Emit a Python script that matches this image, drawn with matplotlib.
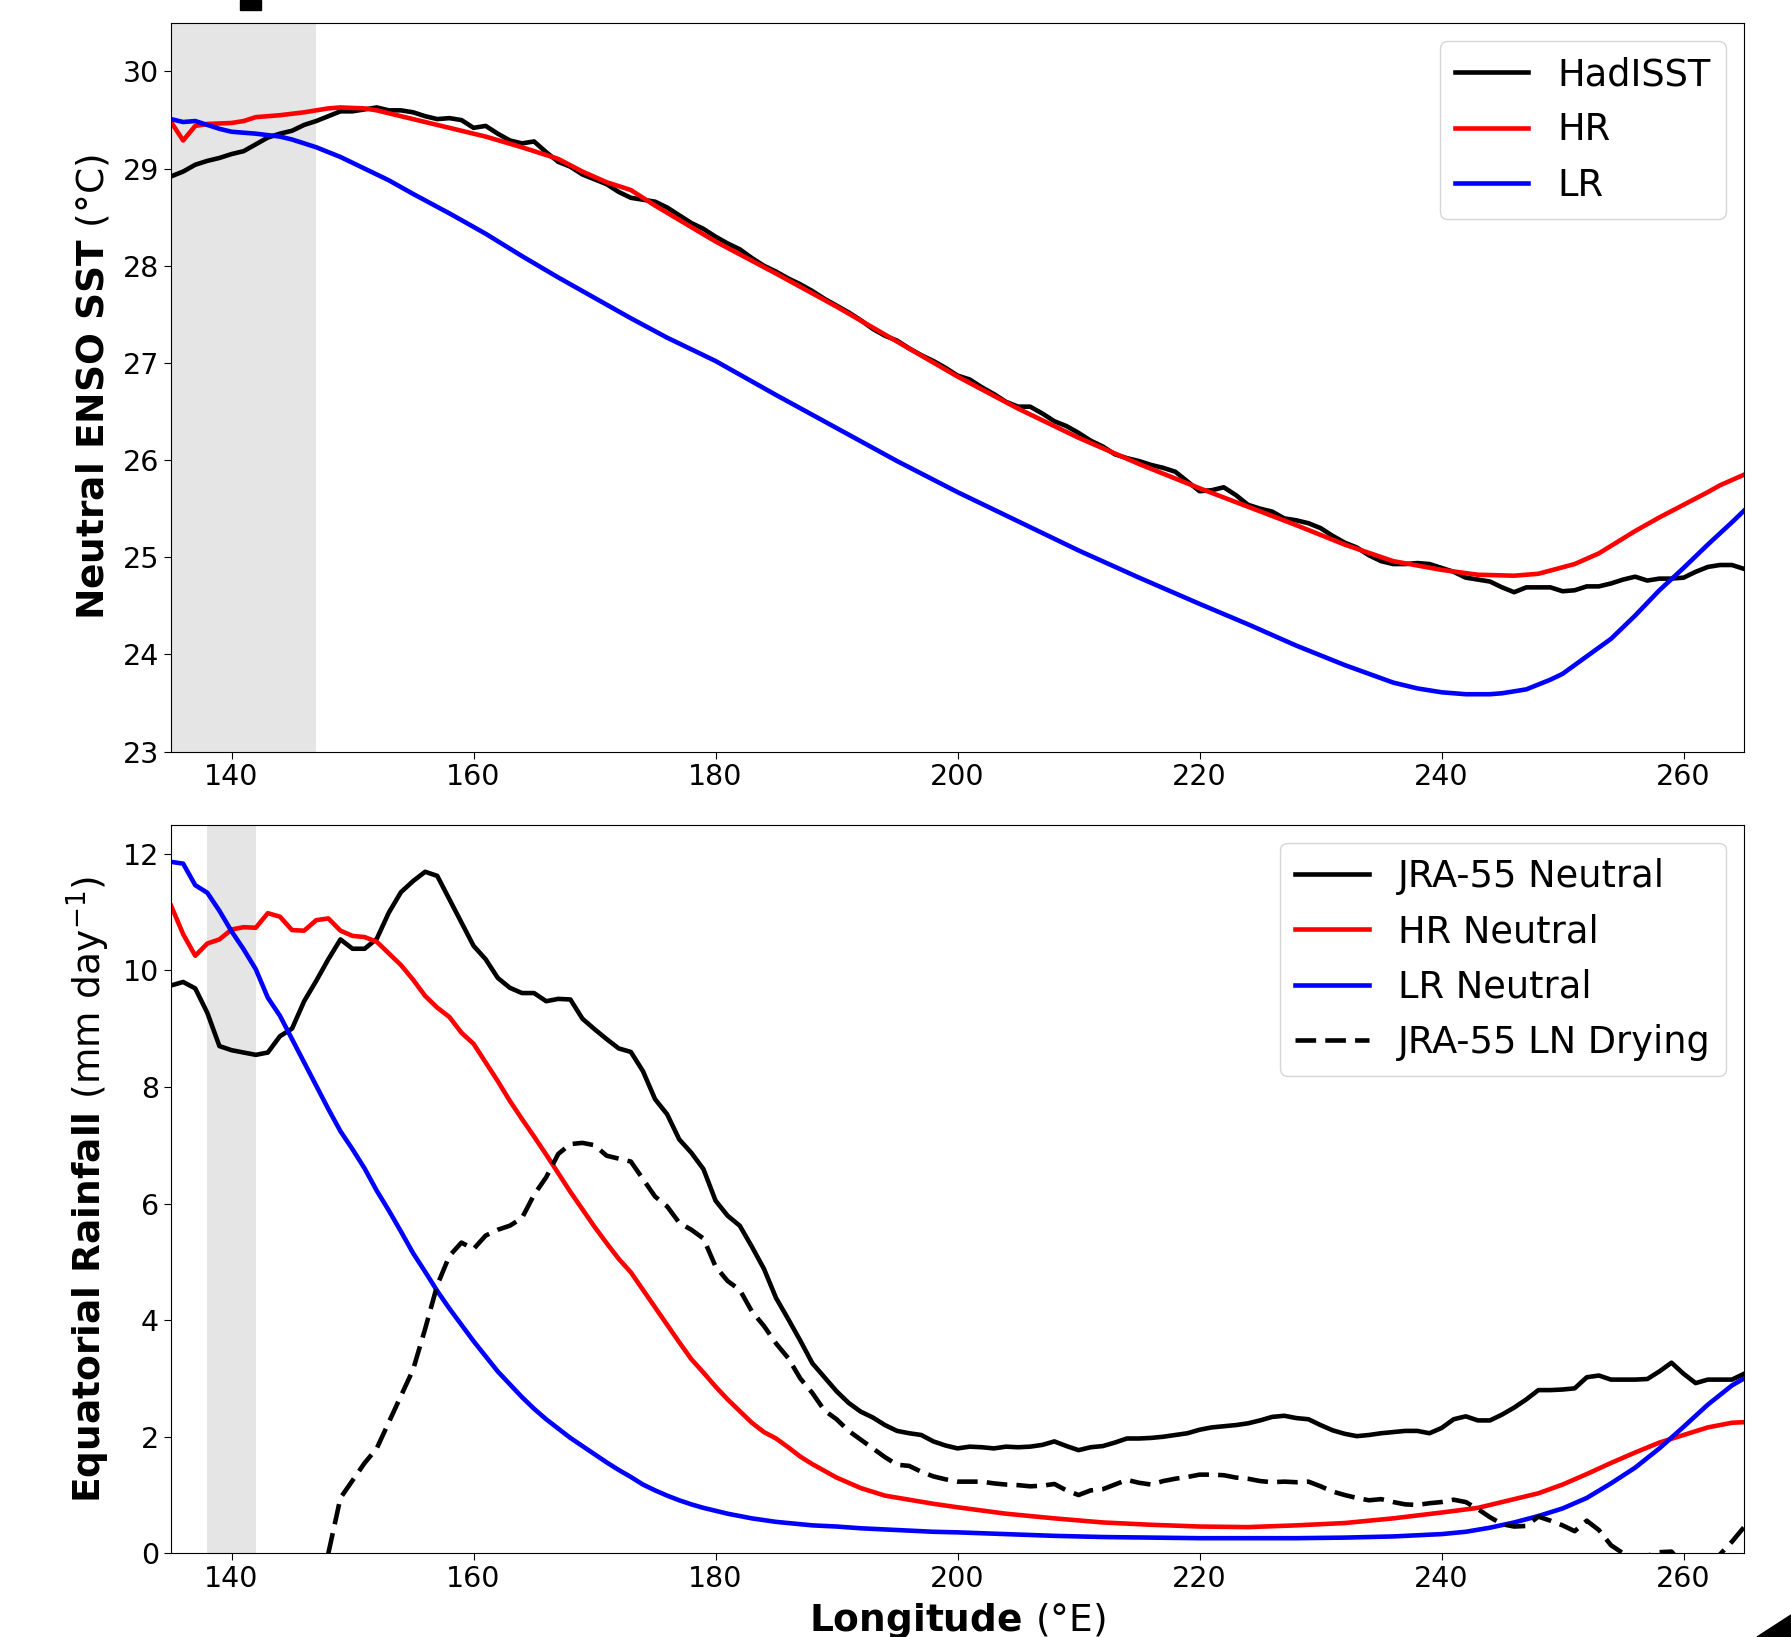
import numpy as np
import matplotlib.pyplot as plt
from matplotlib.patches import Rectangle, Polygon

# ---------------- data ----------------
# top panel: neutral ENSO SST (degC) along the equator
lon_had = np.arange(135, 266)
sst_had = [28.92, 28.97, 29.04, 29.08, 29.11, 29.15, 29.18, 29.25, 29.32, 29.36,
           29.39, 29.45, 29.49, 29.54, 29.59, 29.59, 29.61, 29.63, 29.60, 29.60,
           29.58, 29.54, 29.51, 29.52, 29.50, 29.42, 29.44, 29.36, 29.29, 29.26,
           29.28, 29.17, 29.07, 29.02, 28.94, 28.89, 28.84, 28.76, 28.70, 28.68,
           28.66, 28.60, 28.52, 28.44, 28.38, 28.30, 28.23, 28.17, 28.08, 28.00,
           27.94, 27.87, 27.81, 27.74, 27.66, 27.59, 27.52, 27.44, 27.35, 27.28,
           27.23, 27.15, 27.08, 27.02, 26.95, 26.87, 26.83, 26.75, 26.68, 26.60,
           26.55, 26.55, 26.48, 26.40, 26.35, 26.28, 26.20, 26.14, 26.06, 26.02,
           25.99, 25.95, 25.92, 25.88, 25.78, 25.68, 25.69, 25.72, 25.64, 25.54,
           25.50, 25.47, 25.40, 25.38, 25.35, 25.30, 25.22, 25.15, 25.10, 25.02,
           24.96, 24.93, 24.93, 24.94, 24.93, 24.89, 24.85, 24.79, 24.77, 24.75,
           24.69, 24.64, 24.69, 24.69, 24.69, 24.65, 24.66, 24.70, 24.70, 24.73,
           24.77, 24.80, 24.76, 24.78, 24.78, 24.79, 24.85, 24.90, 24.92, 24.92,
           24.88]

lon_sst_hr = [135, 136, 137, 138, 140, 141, 142, 144, 146, 147, 148, 149, 151, 152,
              155, 158, 161, 164, 167, 169, 171, 173, 175, 180, 185, 190, 195, 200,
              205, 210, 215, 220, 224, 228, 232, 236, 240, 243, 246, 248, 251, 253,
              256, 258, 260, 262, 263, 265]
sst_hr = [29.48, 29.29, 29.44, 29.46, 29.47, 29.49, 29.53, 29.55, 29.58, 29.60, 29.62,
          29.63, 29.62, 29.60, 29.51, 29.42, 29.33, 29.22, 29.10, 28.97, 28.86, 28.78,
          28.62, 28.25, 27.92, 27.58, 27.22, 26.86, 26.53, 26.23, 25.96, 25.71, 25.52,
          25.33, 25.13, 24.96, 24.87, 24.82, 24.81, 24.83, 24.93, 25.04, 25.27, 25.41,
          25.54, 25.67, 25.74, 25.85]

lon_sst_lr = [135, 136, 137, 138, 139, 140, 142, 144, 145, 147, 149, 151, 153, 155,
              158, 161, 164, 167, 170, 173, 176, 180, 185, 190, 195, 200, 205, 210,
              215, 220, 224, 228, 232, 236, 238, 240, 242, 244, 245, 247, 249, 250,
              252, 254, 256, 257, 258, 260, 262, 264, 265]
sst_lr = [29.51, 29.48, 29.49, 29.45, 29.41, 29.38, 29.36, 29.33, 29.30, 29.22, 29.12,
          29.00, 28.88, 28.74, 28.54, 28.33, 28.10, 27.88, 27.67, 27.46, 27.26, 27.02,
          26.67, 26.33, 25.99, 25.67, 25.37, 25.07, 24.79, 24.52, 24.31, 24.09, 23.89,
          23.71, 23.65, 23.61, 23.59, 23.59, 23.60, 23.64, 23.74, 23.80, 23.98, 24.16,
          24.40, 24.53, 24.66, 24.89, 25.13, 25.36, 25.48]

# bottom panel: equatorial rainfall (mm/day)
lon_jra = np.arange(135, 266)
rain_jra = [9.74, 9.80, 9.69, 9.27, 8.70, 8.63, 8.59, 8.55, 8.59, 8.87,
            9.00, 9.47, 9.82, 10.19, 10.53, 10.37, 10.37, 10.54, 10.99, 11.34,
            11.53, 11.69, 11.62, 11.22, 10.82, 10.42, 10.19, 9.87, 9.70, 9.61,
            9.61, 9.47, 9.51, 9.50, 9.17, 8.99, 8.82, 8.66, 8.60, 8.27,
            7.79, 7.53, 7.10, 6.87, 6.59, 6.05, 5.79, 5.62, 5.26, 4.88,
            4.38, 4.02, 3.65, 3.26, 3.02, 2.78, 2.58, 2.43, 2.33, 2.20,
            2.10, 2.06, 2.03, 1.92, 1.85, 1.80, 1.83, 1.82, 1.80, 1.83,
            1.82, 1.83, 1.86, 1.92, 1.84, 1.77, 1.82, 1.84, 1.90, 1.97,
            1.97, 1.98, 2.00, 2.03, 2.06, 2.12, 2.16, 2.18, 2.20, 2.23,
            2.28, 2.34, 2.36, 2.32, 2.30, 2.20, 2.11, 2.05, 2.01, 2.03,
            2.06, 2.08, 2.10, 2.10, 2.06, 2.15, 2.30, 2.35, 2.28, 2.28,
            2.38, 2.50, 2.64, 2.80, 2.80, 2.81, 2.83, 3.02, 3.05, 2.98,
            2.98, 2.98, 2.99, 3.12, 3.27, 3.08, 2.92, 2.98, 2.98, 2.98,
            3.08]

lon_rain_hr = list(range(135, 188)) + [188, 190, 192, 194, 196, 198, 200, 204, 208, 212,
                                       216, 220, 224, 228, 232, 236, 240, 243, 246, 248,
                                       250, 252, 254, 256, 258, 260, 262, 264, 265]
rain_hr = [11.11, 10.62, 10.25, 10.46, 10.53, 10.70, 10.74, 10.73, 10.98, 10.92,
           10.69, 10.68, 10.86, 10.89, 10.68, 10.59, 10.57, 10.49, 10.29, 10.09,
           9.84, 9.56, 9.36, 9.20, 8.93, 8.74, 8.42, 8.10, 7.76, 7.45,
           7.15, 6.84, 6.52, 6.20, 5.90, 5.60, 5.32, 5.05, 4.82, 4.52,
           4.22, 3.92, 3.62, 3.33, 3.10, 2.86, 2.64, 2.44, 2.24, 2.08,
           1.97, 1.82, 1.66,
           1.53, 1.30, 1.12, 0.99, 0.92, 0.85, 0.79, 0.68, 0.60, 0.53,
           0.49, 0.46, 0.45, 0.48, 0.52, 0.60, 0.70, 0.78, 0.93, 1.03,
           1.18, 1.36, 1.55, 1.73, 1.90, 2.03, 2.16, 2.24, 2.25]

lon_rain_lr = list(range(135, 189)) + [190, 192, 194, 196, 198, 200, 204, 208, 212, 216,
                                       220, 224, 228, 232, 236, 238, 240, 242, 244, 246,
                                       248, 250, 252, 254, 256, 258, 260, 262, 264, 265]
rain_lr = [11.86, 11.83, 11.46, 11.33, 11.02, 10.67, 10.36, 10.02, 9.53, 9.22,
           8.82, 8.42, 8.02, 7.62, 7.24, 6.93, 6.60, 6.22, 5.88, 5.52,
           5.15, 4.83, 4.50, 4.20, 3.92, 3.64, 3.38, 3.12, 2.90, 2.68,
           2.48, 2.30, 2.14, 1.98, 1.84, 1.70, 1.56, 1.43, 1.31, 1.18,
           1.08, 0.99, 0.91, 0.84, 0.78, 0.73, 0.68, 0.64, 0.60, 0.57,
           0.54, 0.52, 0.50, 0.48,
           0.46, 0.43, 0.41, 0.39, 0.37, 0.36, 0.33, 0.30, 0.28, 0.27,
           0.26, 0.26, 0.26, 0.27, 0.29, 0.31, 0.33, 0.37, 0.44, 0.53,
           0.64, 0.77, 0.95, 1.20, 1.47, 1.80, 2.17, 2.55, 2.88, 3.00]

lon_drying = np.arange(148, 266)
rain_drying = [0.00, 0.95, 1.25, 1.55, 1.80, 2.25, 2.70, 3.15, 3.85, 4.60,
               5.10, 5.33, 5.22, 5.45, 5.55, 5.62, 5.75, 6.15, 6.45, 6.85,
               7.02, 7.04, 7.00, 6.82, 6.77, 6.72, 6.42, 6.12, 5.95, 5.67,
               5.55, 5.40, 4.92, 4.67, 4.52, 4.15, 3.90, 3.60, 3.35, 3.00,
               2.75, 2.45, 2.30, 2.10, 1.95, 1.80, 1.65, 1.52, 1.50, 1.40,
               1.32, 1.27, 1.23, 1.23, 1.23, 1.20, 1.18, 1.17, 1.15, 1.16,
               1.19, 1.08, 1.00, 1.08, 1.10, 1.18, 1.26, 1.21, 1.18, 1.24,
               1.28, 1.31, 1.35, 1.35, 1.34, 1.30, 1.28, 1.24, 1.22, 1.23,
               1.22, 1.23, 1.15, 1.06, 1.00, 0.95, 0.91, 0.93, 0.88, 0.84,
               0.83, 0.86, 0.88, 0.92, 0.88, 0.76, 0.62, 0.50, 0.46, 0.47,
               0.63, 0.56, 0.48, 0.38, 0.56, 0.40, 0.14, 0.00, -0.05, -0.04,
               0.02, 0.03, -0.20, -0.30, -0.25, -0.02, 0.20, 0.45]

# ---------------- figure ----------------
W, H = 1791, 1637
fig = plt.figure(figsize=(W / 100, H / 100), dpi=100)
ax1 = fig.add_axes([0.0955, 0.5409, 0.8783, 0.4451])
ax2 = fig.add_axes([0.0955, 0.0511, 0.8783, 0.4452])

lw = 3.3

# top panel
ax1.axvspan(135, 147, color='gray', alpha=0.2, lw=0)
ax1.plot(lon_had, sst_had, color='black', lw=lw, label='HadISST')
ax1.plot(lon_sst_hr, sst_hr, color='red', lw=lw, label='HR')
ax1.plot(lon_sst_lr, sst_lr, color='blue', lw=lw, label='LR')
ax1.set_xlim(135, 265)
ax1.set_ylim(23, 30.5)
ax1.set_xticks(range(140, 261, 20))
ax1.set_yticks(range(23, 31))
ax1.set_ylabel(r'Neutral ENSO SST $(\degree\mathrm{C})$', fontsize=27,
               fontweight='bold', labelpad=8)
ax1.legend(loc='upper right', fontsize=26.5, handlelength=2.0)

# bottom panel
ax2.axvspan(138, 142, color='gray', alpha=0.2, lw=0)
ax2.plot(lon_jra, rain_jra, color='black', lw=lw, label='JRA-55 Neutral')
ax2.plot(lon_rain_hr, rain_hr, color='red', lw=lw, label='HR Neutral')
ax2.plot(lon_rain_lr, rain_lr, color='blue', lw=lw, label='LR Neutral')
ax2.plot(lon_drying, rain_drying, color='black', lw=lw, ls=(0, (4.5, 2.0)),
         label='JRA-55 LN Drying')
ax2.set_xlim(135, 265)
ax2.set_ylim(0, 12.5)
ax2.set_xticks(range(140, 261, 20))
ax2.set_yticks(range(0, 13, 2))
ax2.set_ylabel(r'Equatorial Rainfall $(\mathrm{mm\ day^{-1}})$', fontsize=27,
               fontweight='bold', labelpad=8)
ax2.set_xlabel(r'Longitude $(\degree\mathrm{E})$', fontsize=27,
               fontweight='bold', labelpad=6)
ax2.legend(loc='upper right', fontsize=26.5, handlelength=2.0)

for ax in (ax1, ax2):
    ax.tick_params(labelsize=20.5, length=5)

# scan artefacts at the crop edges of the original figure
fig.patches.append(Rectangle((240 / W, 1 - 10 / H), 21 / W, 10 / H,
                             transform=fig.transFigure, color='black'))
fig.patches.append(Polygon([(1757 / W, 0), (1, 22 / H), (1, 0)], closed=True,
                           transform=fig.transFigure, color='black'))

fig.savefig('out.png', dpi=100)
